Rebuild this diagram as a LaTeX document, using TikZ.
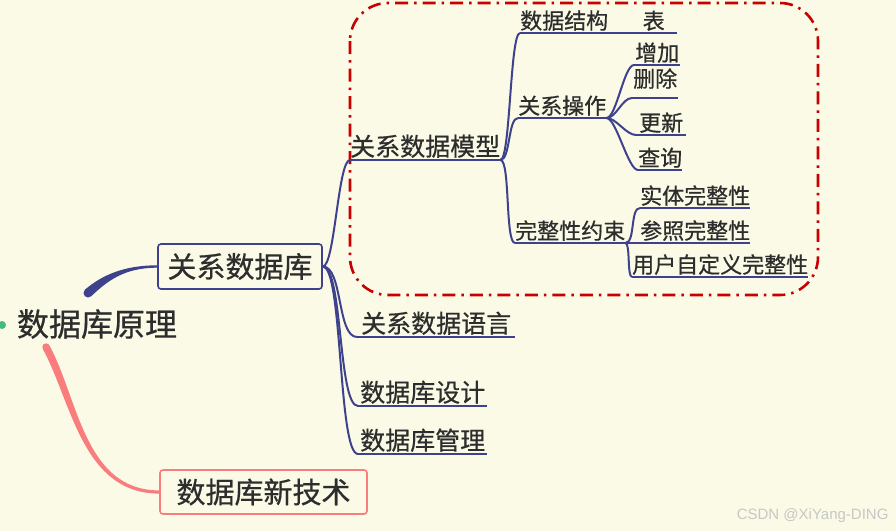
\documentclass[tikz,border=0pt]{standalone}
\usepackage{fontspec}
\usepackage{xcolor}
\usepackage{tikz}
\usetikzlibrary{positioning}
\newfontfamily\cjk[FakeBold=0.6]{Noto Sans CJK SC}
\newfontfamily\credfont{Liberation Sans}
\definecolor{bg}{RGB}{250,250,230}
\definecolor{ink}{RGB}{45,45,45}
\definecolor{navy}{RGB}{62,66,140}
\definecolor{salmon}{RGB}{250,125,125}
\definecolor{dred}{RGB}{200,0,0}
\definecolor{dotgreen}{RGB}{70,185,125}

\begin{document}
\begin{tikzpicture}[x=1pt,y=-1pt,
root/.style={text=ink,inner sep=0pt,font=\cjk\fontsize{32}{36}\selectfont},
topic/.style={draw=navy,line width=1.6pt,rounded corners=3pt,fill=bg,text=ink,font=\cjk\fontsize{29}{32}\selectfont},
item/.style={anchor=south west,inner xsep=0pt,inner ysep=2pt,text=ink},
sub/.style={item,font=\cjk\fontsize{25}{28}\selectfont},
leaf/.style={item,font=\cjk\fontsize{22}{24}\selectfont},
uline/.style={draw=navy,line width=2pt},
link/.style={uline,to path={.. controls ([xshift=#1]\tikztostart) and ([xshift=-#1]\tikztotarget) .. (\tikztotarget)}},
link/.default=10pt,
groupbox/.style={draw=dred,line width=2.6pt,rounded corners=38pt,dash pattern=on 13pt off 6pt on 2.5pt off 6pt},
credit/.style={anchor=east,text=black!22,font=\credfont\fontsize{15}{17}\selectfont}]
\useasboundingbox (0,0) rectangle (896,531);
\fill[bg] (0,0) rectangle (896,531);

% dashed group round the model
\draw[groupbox] (350,3) rectangle (818,295);

% main nodes
\node[root] (root) at (97,324) {数据库原理};
\node[topic,minimum width=164,minimum height=45] (lib) at (240,266.5) {关系数据库};
\node[topic,draw=salmon,minimum width=207,minimum height=44] (tech) at (263.5,492) {数据库新技术};
\coordinate (r1) at (88,293);
\coordinate (r2) at (46,347);
\fill[dotgreen] (2,325) circle (4);

% second level
\node[sub] (model) at (350,160) {关系数据模型};
\node[sub,minimum width=158] (lang) at (357,337) {关系数据语言};
\node[sub,minimum width=129] (design) at (358,406) {数据库设计};
\node[sub,minimum width=129] (manage) at (358,454) {数据库管理};

% third and fourth level
\node[leaf] (struct) at (520,33) {数据结构};
\node[leaf] (oper) at (518,118) {关系操作};
\node[leaf] (integ) at (515,243) {完整性约束};
\node[leaf,minimum width=47] (table) at (630,33) {表};
\node[leaf,minimum width=46] (add) at (634,65) {增加};
\node[leaf,minimum width=46,inner ysep=9pt] (del) at (632,98) {删除};
\node[leaf,minimum width=50] (upd) at (636,135) {更新};
\node[leaf] (query) at (638,170) {查询};
\node[leaf] (entity) at (640,208) {实体完整性};
\node[leaf] (refer) at (640,243) {参照完整性};
\node[leaf] (user) at (632,277) {用户自定义完整性};

% tapered branches from the root
\fill[navy] (r1) ++(-3,-3.4) .. controls +(17,-14.5) and +(-33,0) .. ([shift={(0,-1.2)}]lib.west)
  -- ([shift={(0,1.2)}]lib.west) .. controls +(-33,0) and +(16.4,-15.5) .. ([shift={(3,3.4)}]r1) -- cycle;
\fill[navy] (r1) circle (4.5);
\fill[salmon] ([shift={(3.3,-1.8)}]r2) .. controls +(29,53) and +(-75,0) .. ([shift={(0,-1.6)}]tech.west)
  -- ([shift={(0,1.6)}]tech.west) .. controls +(-77,0) and +(29,53) .. ([shift={(-3.3,1.8)}]r2) -- cycle;
\fill[salmon] (r2) circle (3.7);

% underlines and links
\foreach \n in {model,lang,design,manage,struct,table,oper,integ,add,del,upd,query,entity,refer,user}
  \draw[uline] (\n.south west) -- (\n.south east);
\draw[link=12pt] (lib.east) to (model.south west);
\foreach \n in {lang,design,manage}
  \draw[link=20pt] (lib.east) to (\n.south west);
\foreach \n in {struct,oper,integ}
  \draw[link] (model.south east) to (\n.south west);
\foreach \n in {add,del,upd,query}
  \draw[link] (oper.south east) to (\n.south west);
\draw[uline] (struct.south east) -- (table.south west);
\draw[uline] (integ.south east) -- (refer.south west);
\draw[link] (integ.south east) to (entity.south west);
\draw[link=5pt] (integ.south east) to (user.south west);

\node[credit] (wm) at (892,516) {CSDN @XiYang-DING};
\end{tikzpicture}
\end{document}
